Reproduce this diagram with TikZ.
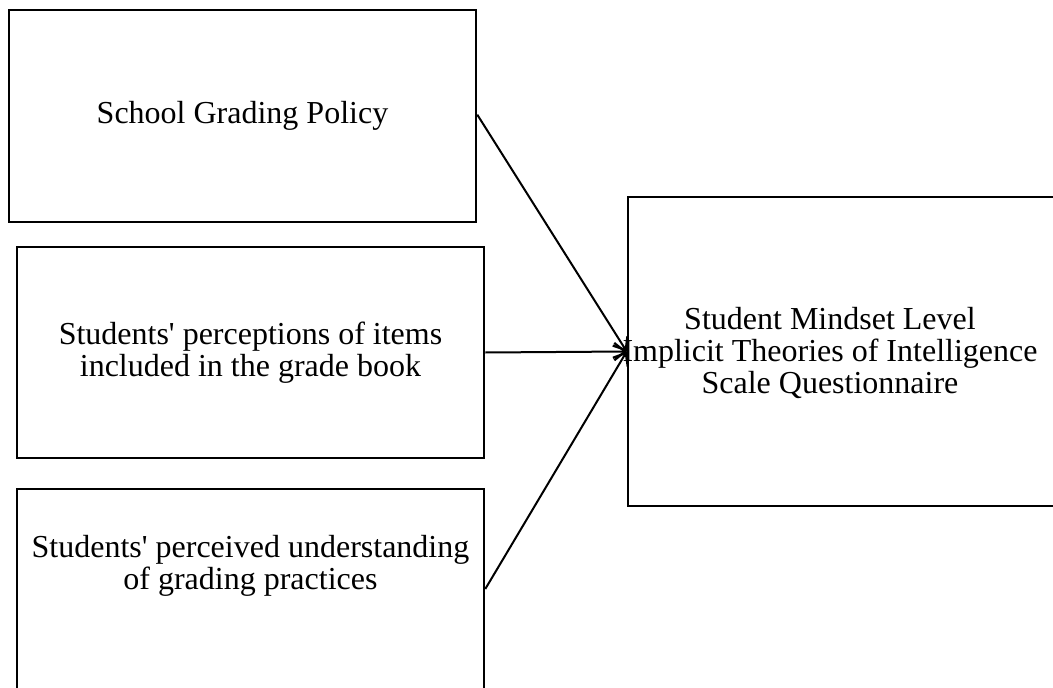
\documentclass[tikz,border=0pt]{standalone}
\usepackage{fontspec}
\setmainfont[Ligatures=TeXOff]{Liberation Serif}
\usetikzlibrary{arrows.meta}
\begin{document}
\begin{tikzpicture}[x=0.75pt,y=-0.75pt,
  box/.style={draw=black,line width=1.9pt,rectangle,inner sep=0pt,align=center,
    font=\fontsize{24}{24}\selectfont},
  lbl/.style={align=center,font=\fontsize{24}{24}\selectfont,inner sep=0pt},
  conn/.style={draw=black,line width=1.5pt,-{Straight Barb[length=8pt,width=13pt,line width=1.7pt]}}]
\useasboundingbox (0,0) rectangle (1053,688);
\clip (0,0) rectangle (1053,688);
\node[box,minimum width=350.25pt,minimum height=159pt] (b1) at (242.5,116) {School Grading Policy};
\node[box,minimum width=350.25pt,minimum height=158.25pt] (b2) at (250.5,352.5) {Students' perceptions of items\\included in the grade book};
\node[box,minimum width=350.25pt,minimum height=159pt] (b3) at (250.5,595) {};
\node[lbl] (t3) at (250.5,566) {Students' perceived understanding\\of grading practices};
\node[box,minimum width=346.5pt,minimum height=231.75pt] (r) at (859,351.5) {};
\node[lbl] (rt) at (830,353) {Student Mindset Level\\Implicit Theories of Intelligence\\Scale Questionnaire};
\draw[conn] ([yshift=1pt]b1.east) -- (r.west);
\draw[conn] (b2.east) -- (r.west);
\draw[conn] ([yshift=4.5pt]b3.east) -- (r.west);
\end{tikzpicture}
\end{document}
